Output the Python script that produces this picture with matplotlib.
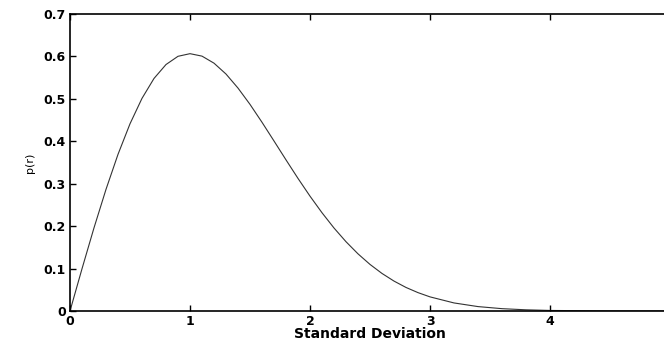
import matplotlib
matplotlib.use("Agg")
import matplotlib.pyplot as plt

r_values = [0.0, 0.1, 0.2, 0.3, 0.4, 0.5, 0.6, 0.7, 0.8, 0.9, 1.0, 1.1, 1.2, 1.3, 1.4,
            1.5, 1.6, 1.7, 1.8, 1.9, 2.0, 2.1, 2.2, 2.3, 2.4, 2.5, 2.6, 2.7, 2.8, 2.9,
            3.0, 3.2, 3.4, 3.6, 3.8, 4.0, 4.5, 5.0]
p_values = [0.0, 0.0995, 0.196, 0.2867, 0.3692, 0.4412, 0.5012, 0.5481, 0.5809, 0.6003,
            0.6065, 0.6007, 0.5841, 0.5585, 0.5254, 0.487, 0.4448, 0.4007, 0.3562, 0.3125,
            0.2707, 0.2316, 0.1956, 0.1633, 0.1347, 0.1098, 0.0885, 0.0705, 0.0555, 0.0433,
            0.0333, 0.019, 0.0104, 0.0055, 0.0028, 0.0013, 0.0002, 0.0]
x_ticks = [0, 1, 2, 3, 4, 5]
y_ticks = [0, 0.1, 0.2, 0.3, 0.4, 0.5, 0.6, 0.7]
y_tick_labels = ["0", "0.1", "0.2", "0.3", "0.4", "0.5", "0.6", "0.7"]

plt.rcParams['font.family'] = ['DejaVu Sans']

fig = plt.figure(figsize=(6.64, 3.41), dpi=100)
ax = fig.add_axes([70/664, 30/341, 600/664, 297/341])
ax.plot(r_values, p_values, color='#333333', linewidth=0.8)
ax.set_xlim(0, 5)
ax.set_ylim(0, 0.7)
ax.set_xticks(x_ticks)
ax.set_xticklabels([str(v) for v in x_ticks], fontweight='bold', fontsize=9)
ax.set_yticks(y_ticks)
ax.set_yticklabels(y_tick_labels, fontweight='bold', fontsize=9)
ax.tick_params(direction='in', top=True, right=True, length=4, width=1, pad=3)
for s in ax.spines.values():
    s.set_linewidth(1.2)
ax.set_xlabel("Standard Deviation", fontweight='bold', fontsize=10, labelpad=-1)
ax.set_ylabel("p(r)", fontsize=8, labelpad=6)
fig.savefig("out.png", dpi=100)
